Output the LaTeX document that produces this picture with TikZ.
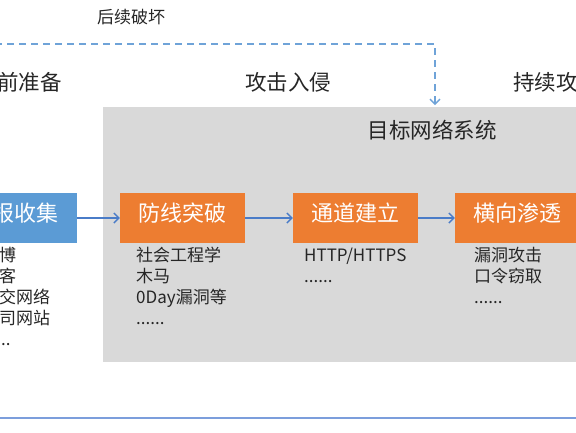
\documentclass[tikz,border=0pt]{standalone}
\usepackage{fontspec}
\setmainfont{Noto Sans CJK SC}
\usetikzlibrary{arrows.meta}
\definecolor{boxblue}{HTML}{5B9BD5}
\definecolor{boxorange}{HTML}{ED7D31}
\definecolor{areagray}{HTML}{D9D9D9}
\definecolor{arrowblue}{HTML}{4A7CC8}
\definecolor{dashblue}{HTML}{6FA3D8}
\definecolor{lineblue}{HTML}{7C9EDC}
\definecolor{txt}{HTML}{262626}
\tikzset{
  stagebox/.style={minimum width=125pt, minimum height=50pt, inner sep=0pt, text=white,
    font=\fontsize{22}{26}\selectfont, text height=0.88em, text depth=0.12em},
  header/.style={inner sep=0pt, text=txt, font=\fontsize{21.5}{26}\selectfont,
    text height=0.88em, text depth=0.12em},
  item/.style={inner sep=0pt, text=txt, anchor=west, font=\fontsize{17}{21}\selectfont,
    text height=0.88em, text depth=0.12em},
  flow/.style={draw=arrowblue, line width=1.4pt, -{Straight Barb[length=5pt,width=10pt,line width=1.4pt]}},
}
\begin{document}
\begin{tikzpicture}[x=1pt,y=-1pt]
\useasboundingbox (0,0) rectangle (576,432);
\clip (0,0) rectangle (576,432);
\fill[white] (0,0) rectangle (576,432);
% target system area
\node[fill=areagray, minimum width=500pt, minimum height=255pt, inner sep=0pt, anchor=north west] (area) at (103,107) {};
\node[header] (areatitle) at (432,135) {目标网络系统};
% top labels
\node[header] (hprep) [anchor=east] at (62,87) {攻击前准备};
\node[header] (hattack) at (288,87) {攻击入侵};
\node[header] (hcont) [anchor=west] at (513,87) {持续攻击};
\node[inner sep=0pt, text=txt, font=\fontsize{17}{20}\selectfont, text height=0.88em, text depth=0.12em] (destroy) at (131,20) {后续破坏};
% dashed feedback
\coordinate (dstart) at (-5,44);
\coordinate (dend) at (435,105);
\draw[draw=dashblue, line width=1.5pt, dash pattern=on 7pt off 5pt,
  -{Straight Barb[length=5pt,width=10pt,line width=1.4pt]}] (dstart) -| (dend);
% stage boxes
\node[stagebox, fill=boxblue] (b0) at (14.5,218) {情报收集};
\node[stagebox, fill=boxorange] (b1) at (182.5,218) {防线突破};
\node[stagebox, fill=boxorange] (b2) at (355.5,218) {通道建立};
\node[stagebox, fill=boxorange] (b3) at (517.5,218) {横向渗透};
\draw[flow] (b0) -- (b1);
\draw[flow] (b1) -- (b2);
\draw[flow] (b2) -- (b3);
% lists
\node[item] (l01) at (-18,258) {微博};
\node[item] (l02) at (-18,279) {博客};
\node[item] (l03) at (-18,300) {社交网络};
\node[item] (l04) at (-18,321) {公司网站};
\node[item] (l05) at (-18,342) {......};
\node[item] (l11) at (136,258) {社会工程学};
\node[item] (l12) at (136,279) {木马};
\node[item] (l13) at (136,300) {0Day漏洞等};
\node[item] (l14) at (136,321) {......};
\node[item] (l21) at (304,258) {HTTP/HTTPS};
\node[item] (l22) at (304,279) {......};
\node[item] (l31) at (474,258) {漏洞攻击};
\node[item] (l32) at (474,279) {口令窃取};
\node[item] (l33) at (474,300) {......};
% bottom line
\coordinate (bl) at (-5,418);
\coordinate (br) at (581,418);
\draw[lineblue, line width=2pt] (bl) -- (br);
\end{tikzpicture}
\end{document}
